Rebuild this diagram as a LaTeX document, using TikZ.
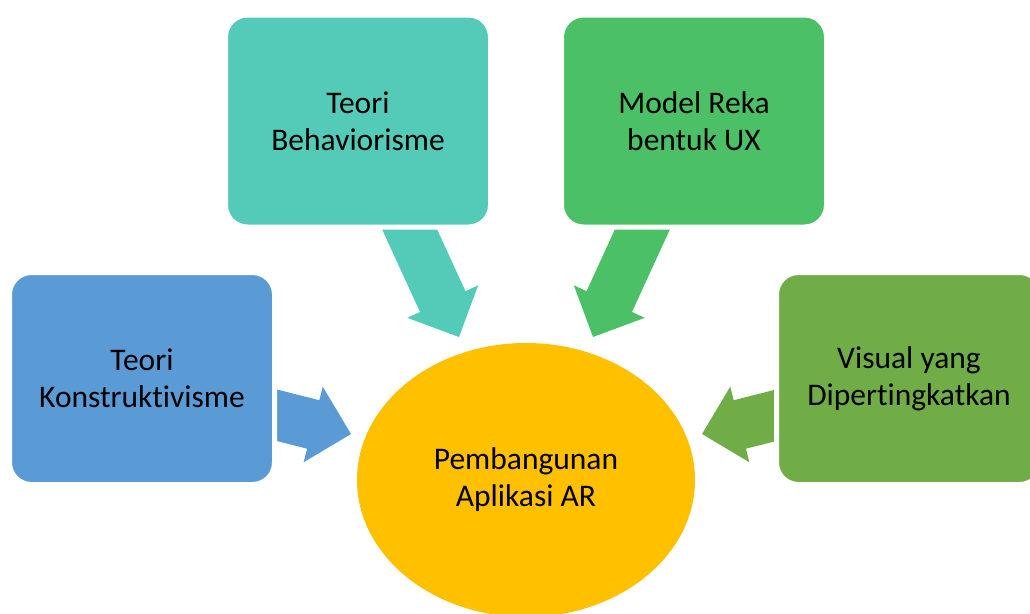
\documentclass[tikz,border=0pt]{standalone}
\usepackage{fontspec}
\setmainfont{Carlito}[Ligatures=NoCommon]
\usetikzlibrary{shapes.geometric, calc}
\definecolor{konblue}{HTML}{5B9BD5}
\definecolor{behteal}{HTML}{54CBB8}
\definecolor{uxgreen}{HTML}{4BC066}
\definecolor{visolive}{HTML}{70AD47}
\definecolor{hubgold}{HTML}{FFC000}

% block arrow: colour, tail, tip
\newcommand{\blockarrow}[3]{%
  \coordinate (hb) at ($(#3)!39pt!(#2)$);
  \fill[#1] ($(#2)!25pt!90:(#3)$) -- ($(hb)!25pt!90:(#3)$) -- ($(hb)!39pt!90:(#3)$)
    -- (#3) -- ($(hb)!39pt!-90:(#3)$) -- ($(hb)!25pt!-90:(#3)$) -- ($(#2)!25pt!-90:(#3)$) -- cycle;
}

\begin{document}
\begin{tikzpicture}[x=1pt, y=-1pt,
  ubox/.style={draw=white, line width=5pt, rounded corners=22pt, minimum width=265pt, minimum height=212pt, align=center, font=\fontsize{31.5}{37}\selectfont},
  hub/.style={ellipse, fill=hubgold, minimum width=338pt, minimum height=274pt, inner sep=0pt, align=center, font=\fontsize{31.5}{37}\selectfont}
]
  \useasboundingbox (0,0) rectangle (1030,613);

  % arrows (tails run under the boxes)
  \coordinate (konT) at (254,409.5);  \coordinate (konP) at (351,434);
  \coordinate (behT) at (396.4,200.6); \coordinate (behP) at (459,337);
  \coordinate (uxT)  at (655.6,200.6); \coordinate (uxP)  at (593,337);
  \coordinate (visT) at (799,409.5);  \coordinate (visP) at (702,434);
  \blockarrow{konblue}{konT}{konP}
  \blockarrow{behteal}{behT}{behP}
  \blockarrow{uxgreen}{uxT}{uxP}
  \blockarrow{visolive}{visT}{visP}

  \node[ubox, fill=konblue] (konstr) at (142,378.5) {Teori\\Konstruktivisme};
  \node[ubox, fill=behteal] (behav) at (358,121) {Teori\\Behaviorisme};
  \node[ubox, fill=uxgreen] (ux) at (694,121) {Model Reka\\bentuk UX};
  \node[ubox, fill=visolive] (visual) at (909,378.5) {Visual yang\\Dipertingkatkan};

  \node[hub] (app) at (526,480) {Pembangunan\\Aplikasi AR};
\end{tikzpicture}
\end{document}
